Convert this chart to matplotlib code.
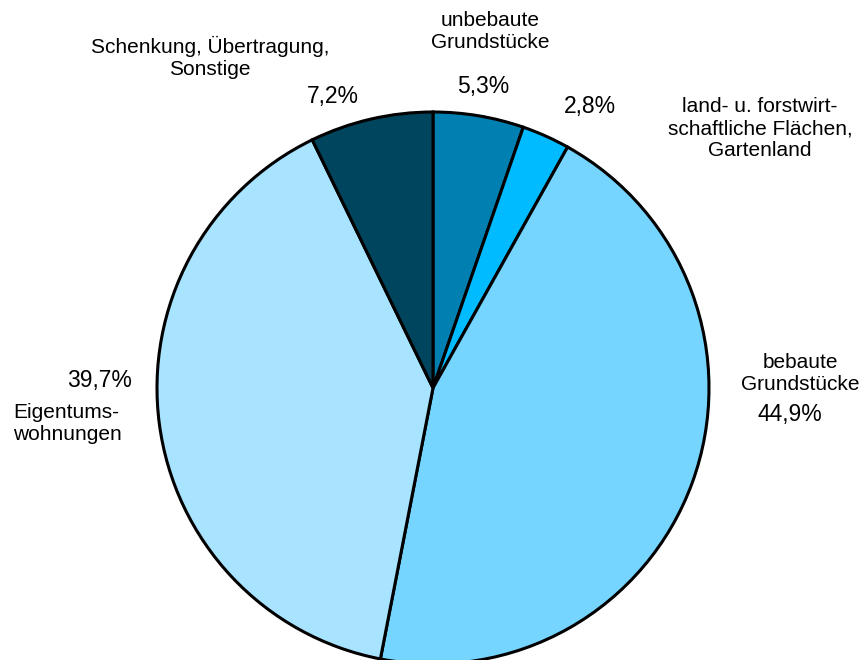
import matplotlib.pyplot as plt

# Anteile in Prozent (im Uhrzeigersinn ab 12 Uhr)
kategorien = ['unbebaute Grundstücke', 'land- u. forstwirtschaftliche Flächen, Gartenland',
              'bebaute Grundstücke', 'Eigentumswohnungen', 'Schenkung, Übertragung, Sonstige']
anteile = [5.3, 2.8, 44.9, 39.7, 7.2]
farben = ['#0080B0', '#00BBFF', '#75D5FF', '#A8E4FF', '#00455E']

# Beschriftungen: (Text, x, y in Pixel von oben, Ausrichtung)
prozent_texte = ['5,3%', '2,8%', '44,9%', '39,7%', '7,2%']
prozent_pos = [(483, 87), (590, 107), (790, 414), (100, 381), (333, 96)]
namen_texte = ['unbebaute\nGrundstücke', 'land- u. forstwirt-\nschaftliche Flächen,\nGartenland',
               'bebaute\nGrundstücke', 'Eigentums-\nwohnungen', 'Schenkung, Übertragung,\nSonstige']
namen_pos = [(490, 32, 'center'), (760, 129, 'center'), (800, 374, 'center'),
             (13, 424, 'left'), (210, 57, 'center')]

plt.rcParams['font.family'] = ['Liberation Sans', 'DejaVu Sans']

fig = plt.figure(figsize=(8.66, 6.6), dpi=100)
ax = fig.add_axes([0, 0, 1, 1])

ax.pie(anteile, colors=farben, startangle=90, counterclock=False,
       center=(433, 660 - 388), radius=276,
       wedgeprops=dict(edgecolor='black', linewidth=2.2))

# pie() setzt die Grenzen neu -> danach festlegen
ax.set_xlim(0, 866)
ax.set_ylim(0, 660)
ax.set_aspect('equal')
ax.axis('off')

for txt, (x, y) in zip(prozent_texte, prozent_pos):
    ax.text(x, 660 - y, txt, ha='center', va='center', fontsize=16.5)

for txt, (x, y, h) in zip(namen_texte, namen_pos):
    ax.text(x, 660 - y, txt, ha=h, va='center', fontsize=15, linespacing=1.2,
            multialignment=h)

fig.savefig('out.png', dpi=100)
